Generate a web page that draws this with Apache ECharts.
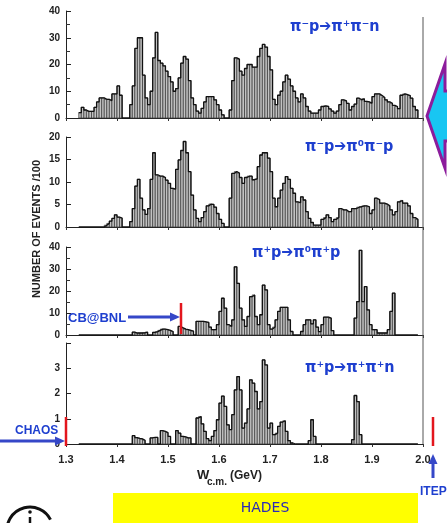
<!DOCTYPE html>
<html>
<head>
<meta charset="utf-8">
<script src="https://cdn.jsdelivr.net/npm/echarts@6/dist/echarts.min.js"></script>
<style>
  html, body { margin: 0; padding: 0; background: #fff; }
  #main { width: 447px; height: 523px; }
</style>
</head>
<body>
<div id="main"></div>
<script>
// histogram bins: 5 MeV wide, first edge at 1.325 GeV
const binStart = 1.325;
const binWidth = 0.005;

// number of events / 100 per bin
const piMinusPPiPlusPiMinusN = [
  2, 4, 3, 2.5, 2.5, 2.5, 4, 6, 7.5, 7.5, 7, 7, 6.5, 9, 9, 12, 8.5,
  0, 0, 0,
  5, 12, 26, 30, 30, 16, 7.5, 5, 10, 22.5, 32, 21.5, 20.5, 19.5, 17.5, 15.5, 13.5, 10, 11, 15,
  20.5, 23, 22, 14, 7.5, 5, 2.6, 1.8, 3.6, 6, 8, 8, 8, 6.8, 5, 3, 1.2,
  0, 0,
  3, 14, 22.5, 22, 17.5, 16, 18.5, 20, 20, 19, 19, 23, 26, 27.5, 26.5, 23, 18, 7, 5, 8.5,
  10, 13.5, 16, 14.5, 12, 10, 7.5, 6, 9, 7.5, 4.3, 2.6, 1.8, 1.8, 1.8, 3, 4.3, 4.5, 4.3, 3.4,
  2.6, 1.8, 2.6, 5, 6.8, 6.4, 5.5, 3, 4.3, 5.2, 7.4, 6.8, 7.2, 6.2, 6, 5.5, 8, 9, 9, 8.4,
  7.7, 6.8, 6, 5.5, 4.7, 4.3, 3.5, 8.5, 9, 8.7, 8.4, 7.4, 4.3, 3
];

const piMinusPPiZeroPiMinusP = [
  0, 0, 0, 0, 0, 0, 0, 0, 0, 0,
  0.4, 0.8, 1.3, 1.9, 2.7, 2.2, 2,
  0, 0, 0,
  1.2, 4.1, 9.1, 10.6, 6.4, 3.8, 2.8, 4.1, 10.6, 16.5, 11.6, 11.3, 11.3, 11, 10.4, 9.7, 8.6, 8.4, 12.8, 14.9,
  17, 19, 16.5, 12.3, 7.1, 3.8, 1.9, 1.2, 2.1, 3.4, 4.7, 5.1, 5, 4.4, 3, 1.7, 0.8,
  0, 0,
  6.4, 11.9, 12.3, 12, 11, 9.7, 11, 11.3, 11.3, 10.5, 10.7, 13.4, 16, 16.5, 16.5, 15.3, 12.3, 6.4, 4.5, 6.4,
  8.2, 9.7, 11.2, 10.6, 8.6, 7.5, 5.6, 5.4, 6.7, 6, 3.4, 1.9, 1, 0.4, 0.4, 0.4, 1.7, 2.1, 2.7, 2.1,
  1.2, 1.7, 2.1, 4.1, 3.8, 3.8, 3.4, 3.4, 4.1, 4.1, 4.4, 4.5, 4.7, 4.7, 4.5, 3, 3.8, 6.4, 6.1, 5.3,
  5.3, 5.1, 4.7, 3.8, 2.7, 3.4, 5.6, 5.9, 5.3, 5.3, 4.7, 3, 2.1, 1.7
];

const piPlusPPiZeroPiPlusP = [
  0, 0, 0, 0, 0, 0, 0, 0, 0, 0, 0, 0, 0, 0, 0, 0, 0, 0, 0, 0, 0,
  1.3, 0.9, 0.9, 0.9, 1, 1.3,
  0, 0,
  1.2, 1.5, 2.1, 2.7, 2.7, 2.4, 2.1, 1.6,
  0, 0,
  3.9, 3.2, 2.7, 2.4, 2.1, 1.8,
  0,
  6.2, 6.2, 6.2, 6, 5.7, 3.6, 2.4, 2.4, 4.7, 10.7, 16.7, 12.2, 4.7, 3.9, 6.9, 31, 23.5, 12.2, 6.9, 3.9,
  8.4, 17.4, 18.2, 8.4, 4.7, 9.2, 22.7, 20.5, 4.7, 2.7, 3.6, 6.9, 10.7, 12.6, 12.6, 12.6, 6.9, 1.6,
  0, 0, 0,
  1.6, 4.7, 6.9, 6.9, 5.1, 6.9, 3.6, 1.5, 4.7, 8.1, 8.1, 7.7, 2,
  0, 0, 0, 0, 0, 0, 0, 0,
  7.7, 15.2, 38.5, 15.2, 22, 11.4, 4.7, 2.4, 2.4, 0.9, 0.9, 0.9, 0.9, 2.4, 10.7, 19,
  0, 0, 0, 0, 0, 0, 0, 0, 0
];

const piPlusPPiPlusPiPlusN = [
  0, 0, 0, 0, 0, 0, 0, 0, 0, 0, 0, 0, 0, 0, 0, 0, 0, 0, 0, 0, 0,
  0.33, 0.25, 0.22, 0.2, 0.15,
  0, 0,
  0.24, 0.26, 0.26,
  0,
  0.53, 0.5, 0.45, 0.3,
  0, 0,
  0.53, 0.43, 0.3, 0.28, 0.24, 0.24,
  0, 0,
  1.03, 1.09, 0.8, 0.5, 0.21, 0.13, 0.3, 0.53, 0.96, 1.62, 1.9, 1.49, 0.76, 0.57, 1.16, 2.14, 2.67, 2.14, 0.63, 0.83,
  1.39, 2.54, 2.41, 2.08, 1.39, 1.68, 3.33, 3.13, 0.63, 0.83, 0.37, 0.43, 0.7, 0.87, 0.92, 0.5, 0.13, 0.04,
  0, 0, 0, 0, 0, 0,
  0.13, 0.96, 0.3,
  0, 0, 0, 0, 0, 0, 0, 0, 0, 0, 0, 0, 0, 0,
  0.17, 1.92, 1.68, 0.37,
  0, 0, 0, 0, 0, 0, 0, 0, 0, 0, 0, 0, 0, 0, 0, 0, 0, 0, 0, 0, 0, 0
];

const xTickLabels = ['1.3', '1.4', '1.5', '1.6', '1.7', '1.8', '1.9', '2.0'];
const reactionLabels = ['π⁻p➔π⁺π⁻n', 'π⁻p➔π⁰π⁻p', 'π⁺p➔π⁰π⁺p', 'π⁺p➔π⁺π⁺n'];

const panels = [
  { values: piMinusPPiPlusPiMinusN, max: 40, interval: 10, minor: true, top: 11, height: 107 },
  { values: piMinusPPiZeroPiMinusP, max: 20, interval: 5, minor: false, top: 137, height: 90 },
  { values: piPlusPPiZeroPiPlusP, max: 40, interval: 10, minor: true, top: 247, height: 88 },
  { values: piPlusPPiPlusPiPlusN, max: 4, interval: 1, minor: false, top: 343, height: 101 }
];

const chart = echarts.init(document.getElementById('main'));

const BLUE = '#1e3fcf';
const RED = '#e3161d';
const ARROW = '#3547c8';
const tickFont = 'Liberation Sans';

const grid = panels.map((p) => ({ left: 66, right: 24, top: p.top, height: p.height }));

const xAxis = panels.map((p, k) => ({
  type: 'value',
  gridIndex: k,
  min: 1.3,
  max: 2.0,
  interval: 0.1,
  axisLine: { show: true, lineStyle: { color: '#222', width: 1 } },
  axisTick: { show: true, inside: false, length: 3, lineStyle: { color: '#333' } },
  splitLine: { show: false },
  axisLabel: {
    show: k === 3,
    margin: 10,
    fontFamily: tickFont,
    fontWeight: 'bold',
    fontSize: 11,
    color: '#222',
    formatter: (v) => xTickLabels[Math.round((v - 1.3) / 0.1)]
  }
}));

const yAxis = panels.map((p, k) => ({
  type: 'value',
  gridIndex: k,
  min: 0,
  max: p.max,
  interval: p.interval,
  axisLine: { show: true, lineStyle: { color: '#222', width: 1 } },
  axisTick: { show: true, inside: true, length: 5, lineStyle: { color: '#222' } },
  minorTick: { show: p.minor, splitNumber: 2, length: 4, lineStyle: { color: '#333' } },
  splitLine: { show: false },
  axisLabel: {
    margin: 6,
    fontFamily: tickFont,
    fontWeight: 'bold',
    fontSize: 10,
    color: '#222',
    formatter: (v) => (k === 3 && v === 4 ? '' : String(v))
  }
}));

const series = [];
panels.forEach((p, k) => {
  const pts = p.values.map((v, i) => [binStart + i * binWidth, v]);
  series.push({
    type: 'custom',
    xAxisIndex: k,
    yAxisIndex: k,
    silent: true,
    data: pts.filter((d) => d[1] > 0),
    renderItem: (params, api) => {
      const x0 = api.value(0);
      const v = api.value(1);
      const tl = api.coord([x0, v]);
      const br = api.coord([x0 + binWidth, 0]);
      return {
        type: 'rect',
        shape: { x: tl[0], y: tl[1], width: br[0] - tl[0], height: br[1] - tl[1] },
        style: { fill: '#c2c2c2', stroke: '#333', lineWidth: 0.7 }
      };
    }
  });
  series.push({
    type: 'line',
    xAxisIndex: k,
    yAxisIndex: k,
    step: 'end',
    silent: true,
    symbol: 'none',
    z: 3,
    lineStyle: { color: '#111', width: 1.3 },
    data: pts.concat([[binStart + p.values.length * binWidth, 0]])
  });
});

function label(x, y, text, font, fill, align) {
  return {
    type: 'text', x: x, y: y, z: 20,
    style: { text: text, font: font, fill: fill, textAlign: align || 'left', textVerticalAlign: 'middle' }
  };
}

const titleFont = "bold 16px 'DejaVu Sans Condensed', 'DejaVu Sans'";

const graphic = [
  // right frame line
  { type: 'line', z: 5, shape: { x1: 423, y1: 17, x2: 423, y2: 444 }, style: { stroke: '#555', lineWidth: 1 } },
  // reaction labels
  label(290, 27, reactionLabels[0], titleFont, BLUE),
  label(305, 147, reactionLabels[1], titleFont, BLUE),
  label(252, 253, reactionLabels[2], titleFont, BLUE),
  label(305, 368, reactionLabels[3], titleFont, BLUE),
  // y axis title
  {
    type: 'text', x: 37, y: 229, rotation: Math.PI / 2, z: 20,
    style: { text: 'NUMBER OF EVENTS /100', font: "bold 11px 'Liberation Sans'", fill: '#222', textAlign: 'center', textVerticalAlign: 'middle' }
  },
  // x axis title
  label(197, 475, 'W', "bold 13px 'Liberation Sans'", '#222'),
  label(207, 482, 'c.m.', "bold 10px 'Liberation Sans'", '#222'),
  label(230, 476, '(GeV)', "bold 12px 'Liberation Sans'", '#222'),
  // CB@BNL
  label(68, 318, 'CB@BNL', "bold 13px 'Liberation Sans'", BLUE),
  { type: 'line', z: 10, shape: { x1: 128, y1: 317, x2: 172, y2: 317 }, style: { stroke: ARROW, lineWidth: 3 } },
  { type: 'polygon', z: 10, shape: { points: [[170, 312.5], [180, 317], [170, 321.5]] }, style: { fill: ARROW } },
  { type: 'line', z: 11, shape: { x1: 181, y1: 303, x2: 181, y2: 334 }, style: { stroke: RED, lineWidth: 2.5 } },
  // CHAOS
  label(15, 431, 'CHAOS', "bold 12px 'Liberation Sans'", BLUE),
  { type: 'line', z: 10, shape: { x1: 0, y1: 441, x2: 57, y2: 441 }, style: { stroke: ARROW, lineWidth: 3 } },
  { type: 'polygon', z: 10, shape: { points: [[55, 436.5], [65, 441], [55, 445.5]] }, style: { fill: ARROW } },
  { type: 'line', z: 11, shape: { x1: 66, y1: 417, x2: 66, y2: 446 }, style: { stroke: RED, lineWidth: 2.5 } },
  // ITEP
  { type: 'line', z: 11, shape: { x1: 433, y1: 417, x2: 433, y2: 446 }, style: { stroke: RED, lineWidth: 2.5 } },
  { type: 'line', z: 10, shape: { x1: 433, y1: 478, x2: 433, y2: 462 }, style: { stroke: ARROW, lineWidth: 3 } },
  { type: 'polygon', z: 10, shape: { points: [[428.5, 464], [433, 454], [437.5, 464]] }, style: { fill: ARROW } },
  label(420, 492, 'ITEP', "bold 12px 'Liberation Sans'", BLUE),
  // HADES band
  { type: 'rect', z: 1, shape: { x: 113, y: 493, width: 305, height: 30 }, style: { fill: '#ffff00' } },
  label(265, 508, 'HADES', "14px 'DejaVu Sans'", '#2a2ab8', 'center'),
  // big cyan arrow at right edge
  {
    type: 'polygon', z: 10,
    shape: { points: [[427, 116], [445, 64], [445, 91], [460, 91], [460, 141], [445, 141], [445, 168]] },
    style: { fill: '#18c6f2', stroke: '#8c1c9c', lineWidth: 3, lineJoin: 'miter' }
  },
  // logo at bottom left
  {
    type: 'arc', z: 10,
    shape: { cx: 30, cy: 530, r: 23, startAngle: Math.PI * 0.92, endAngle: Math.PI * 1.85, clockwise: true },
    style: { stroke: '#111', lineWidth: 3, fill: null }
  },
  { type: 'circle', z: 10, shape: { cx: 30, cy: 512, r: 1.8 }, style: { fill: '#111' } },
  { type: 'line', z: 10, shape: { x1: 30, y1: 517, x2: 30, y2: 523 }, style: { stroke: '#111', lineWidth: 2.5 } }
];

chart.setOption({
  animation: false,
  backgroundColor: '#fff',
  grid: grid,
  xAxis: xAxis,
  yAxis: yAxis,
  series: series,
  graphic: graphic
});
</script>
</body>
</html>
